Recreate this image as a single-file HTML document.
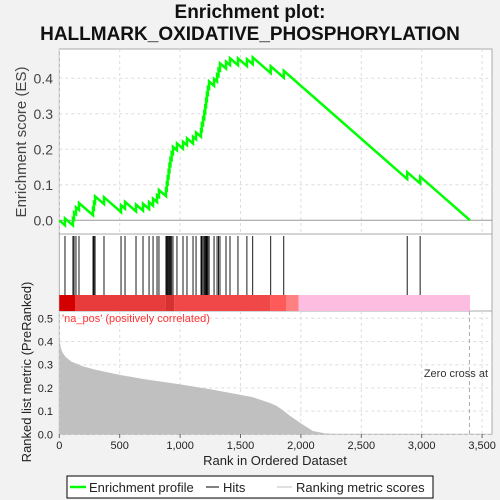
<!DOCTYPE html>
<html><head><meta charset="utf-8"><style>
body{margin:0;background:#f2f2f2;}
svg{display:block;font-family:"Liberation Sans","DejaVu Sans",sans-serif;}
</style></head><body>
<svg id="c" width="500" height="500"></svg>
<script>
const hitRanks=[47,113,122,138,163,279,287,296,370,511,544,635,693,743,776,809,825,883,890,897,905,912,920,930,941,974,1024,1057,1107,1132,1173,1180,1190,1200,1208,1215,1222,1230,1240,1281,1306,1318,1330,1380,1413,1479,1553,1601,1750,1858,2880,2987];
const totalN=3400;
const metricRanks=[0,5,10,20,30,50,100,200,300,500,700,1000,1250,1500,1600,1750,1800,1850,1900,2000,2100,2200,2300,3400];
const metricVals=[0.42,0.40,0.38,0.36,0.35,0.335,0.313,0.292,0.278,0.256,0.238,0.215,0.194,0.17,0.16,0.134,0.122,0.104,0.083,0.047,0.014,0.004,0.001,0.0];
const esTicks=[0,0.1,0.2,0.3,0.4];
const metTicks=[0,0.1,0.2,0.3,0.4,0.5];
const xTicks=[0,500,1000,1500,2000,2500,3000,3500];
const xTickLabels=["0","500","1,000","1,500","2,000","2,500","3,000","3,500"];

const NS="http://www.w3.org/2000/svg";
const svg=document.getElementById('c');
function el(t,a,p){const e=document.createElementNS(NS,t);for(const k in a)e.setAttribute(k,a[k]);(p||svg).appendChild(e);return e;}
const L=59.3,R=492;
const X=v=>L+v*0.1208;
const YE=v=>220.3-v*355;
const YM=v=>434.3-v*232;

let t=el('text',{x:250,y:18,'text-anchor':'middle','font-size':19,'font-weight':'bold',fill:'#111'});t.textContent='Enrichment plot:';

t=el('text',{x:250,y:40,'text-anchor':'middle','font-size':19,'font-weight':'bold',fill:'#111'});t.textContent='HALLMARK_OXIDATIVE_PHOSPHORYLATION';


let p=el('rect',{x:L,y:49,width:R-L,height:185,fill:'#fff',stroke:'#aaa'});

p=el('rect',{x:L,y:234,width:R-L,height:77,fill:'#fff',stroke:'#aaa'});

p=el('rect',{x:L,y:311,width:R-L,height:123.3,fill:'#fff',stroke:'#aaa'});


xTicks.forEach(v=>{const x=X(v);if(x>R)return;
 el('line',{x1:x,x2:x,y1:49,y2:234,stroke:'#ddd','stroke-dasharray':'3,3'});
 el('line',{x1:x,x2:x,y1:311,y2:434,stroke:'#ddd','stroke-dasharray':'3,3'});});
esTicks.forEach(v=>{el('line',{x1:L,x2:R,y1:YE(v),y2:YE(v),stroke:v==0?'#999':'#ddd','stroke-dasharray':v==0?'':'3,3'});
 const tx=el('text',{x:53,y:YE(v)+5,'text-anchor':'end','font-size':14,fill:'#444'});tx.textContent=v.toFixed(1);
 });
metTicks.forEach(v=>{el('line',{x1:L,x2:R,y1:YM(v),y2:YM(v),stroke:'#ddd','stroke-dasharray':'3,3'});
 const tx=el('text',{x:53,y:YM(v)+4,'text-anchor':'end','font-size':11,fill:'#222'});tx.textContent=v.toFixed(1);
 });

let d='M'+X(0)+','+YM(0);
metricRanks.forEach((r,i)=>{d+=' L'+X(r)+','+YM(metricVals[i]);});
d+=' L'+X(totalN)+','+YM(0)+'Z';
const area=el('path',{d:d,fill:'#c0c0c0'});


el('line',{x1:X(3395),x2:X(3395),y1:311,y2:434,stroke:'#aaa','stroke-dasharray':'4,3'});
t=el('text',{x:488,y:377,'text-anchor':'end','font-size':11,fill:'#333'});t.textContent='Zero cross at';

t=el('text',{x:62,y:322,'font-size':11,fill:'#f33'});t.textContent="'na_pos' (positively correlated)";


const segs=[[0,130,'#d40000'],[130,880,'#e83c3c'],[880,950,'#d63030'],[950,1750,'#f04848'],[1750,1880,'#ff5a5a'],[1880,1980,'#ff8080'],[1980,3400,'#fcbde0']];
segs.forEach(s=>{const r=el('rect',{x:X(s[0]),y:295,width:X(s[1])-X(s[0]),height:16,fill:s[2]});
 });

hitRanks.forEach(r=>{const h=el('line',{x1:X(r),x2:X(r),y1:236,y2:295,stroke:'#000','stroke-width':0.9});
 });

const nh=hitRanks.length,hitSet=new Set(hitRanks);
let es=0,pts=[[0,0]];
for(let i=0;i<totalN;i++){ if(hitSet.has(i)){pts.push([i,es]);es+=1/nh;pts.push([i,es]);} else es-=1/(totalN-nh);}
pts.push([totalN,es]);
const line=el('polyline',{points:pts.map(q=>X(q[0])+','+YE(q[1])).join(' '),fill:'none',stroke:'#00ff00','stroke-width':2.5});


xTicks.forEach((v,i)=>{const x=X(v);el('line',{x1:x,x2:x,y1:434,y2:438,stroke:'#666'});
 const tx=el('text',{x:x,y:449,'text-anchor':'middle','font-size':11,fill:'#222'});tx.textContent=xTickLabels[i];
 });
t=el('text',{x:275,y:465,'text-anchor':'middle','font-size':13,fill:'#222'});t.textContent='Rank in Ordered Dataset';

t=el('text',{x:0,y:0,transform:'translate(26,142) rotate(-90)','text-anchor':'middle','font-size':15,fill:'#444'});t.textContent='Enrichment score (ES)';

t=el('text',{x:0,y:0,transform:'translate(31,372) rotate(-90)','text-anchor':'middle','font-size':13,fill:'#222'});t.textContent='Ranked list metric (PreRanked)';


const lg=el('g',{});
el('rect',{x:67,y:476,width:366,height:22,fill:'#fff',stroke:'#000'},lg);
el('line',{x1:70,x2:86,y1:487,y2:487,stroke:'#00ff00','stroke-width':2.5},lg);
t=el('text',{x:89,y:492,'font-size':13,fill:'#222'},lg);t.textContent='Enrichment profile';
el('line',{x1:206,x2:219,y1:487,y2:487,stroke:'#000'},lg);
t=el('text',{x:223,y:492,'font-size':13,fill:'#222'},lg);t.textContent='Hits';
el('line',{x1:277,x2:292,y1:487,y2:487,stroke:'#c0c0c0'},lg);
t=el('text',{x:296,y:492,'font-size':13,fill:'#222'},lg);t.textContent='Ranking metric scores';
</script>
</body></html>
